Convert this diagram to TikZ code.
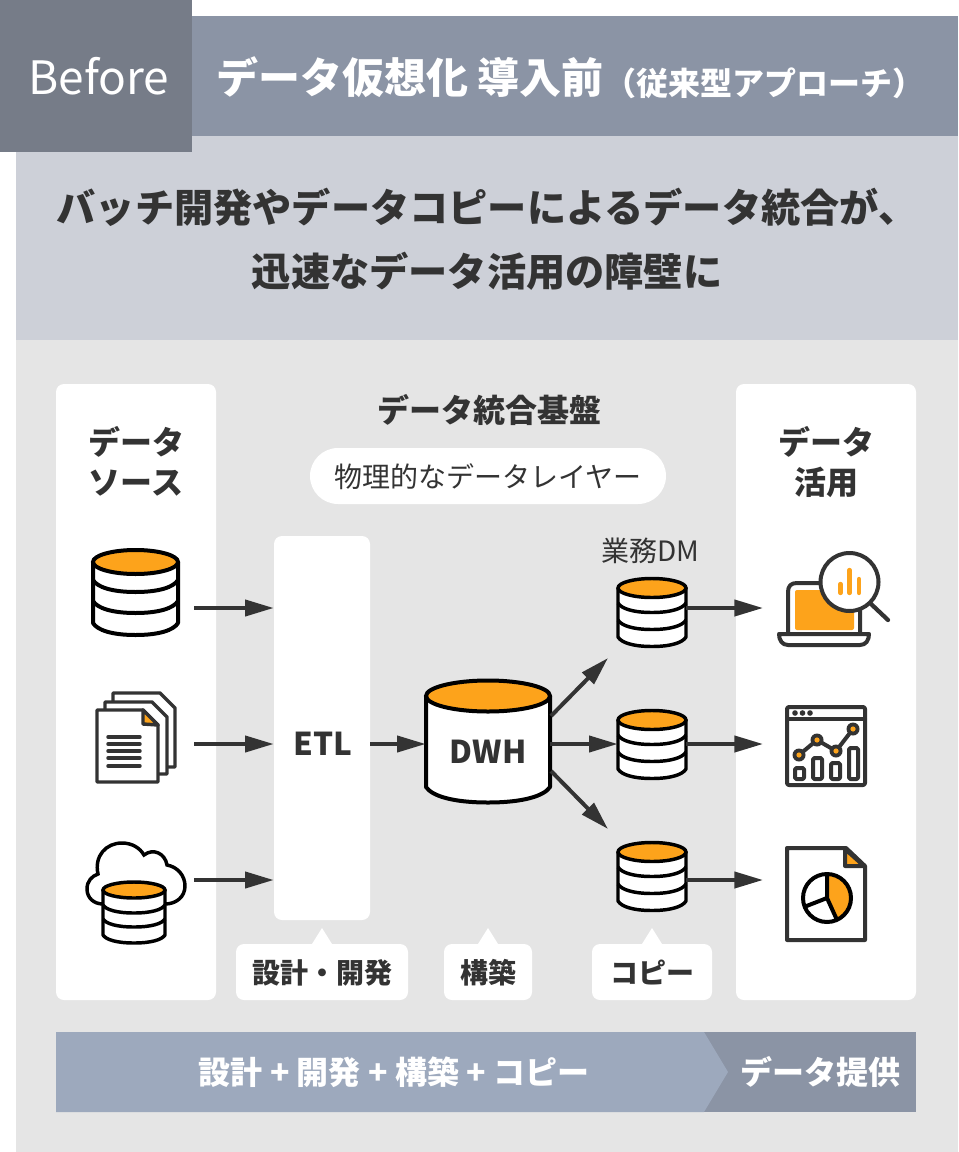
\documentclass[tikz,border=0pt]{standalone}
\usepackage{fontspec}
\setmainfont{Noto Sans CJK JP}
\usetikzlibrary{arrows.meta}
\definecolor{ink}{HTML}{333333}
\definecolor{orng}{HTML}{FDA31B}
\definecolor{hdr}{HTML}{8B94A5}
\definecolor{bfr}{HTML}{767C88}
\definecolor{sub}{HTML}{CDD0D8}
\definecolor{bgp}{HTML}{E5E5E5}
\definecolor{barl}{HTML}{9DA9BD}
\definecolor{barr}{HTML}{8B94A5}
\tikzset{
  B/.style={font=\bfseries\fontsize{#1}{#1}\selectfont,text height=.88*#1,text depth=.12*#1,inner sep=0pt,text=ink},
  R/.style={font=\fontsize{#1}{#1}\selectfont,text height=.88*#1,text depth=.12*#1,inner sep=0pt,text=ink},
  card/.style={fill=white,rounded corners=6pt,inner sep=0pt},
  flow/.style={draw=ink,line width=3pt,-{Triangle[length=21.5pt,width=12pt]},shorten >=0pt},
  anchorbox/.style={inner sep=0pt,minimum width=#1,minimum height=1pt},
  ic/.style={draw=ink,line width=2.6pt,line join=round,line cap=round},
}
% cx half-width cy ry band1 band2 band3 lw
\newcommand{\band}[4]{(#1-#2,#3) .. controls (#1-#2+.1*#2,#3+.6*#4) and (#1-.55*#2,#3+#4) .. (#1,#3+#4) .. controls (#1+.55*#2,#3+#4) and (#1+#2-.1*#2,#3+.6*#4) .. (#1+#2,#3)}
\newcommand{\dbicon}[8]{%
  \fill[white] (#1-#2,#3) -- \band{#1}{#2}{#7}{#4} -- (#1+#2,#3) -- cycle;
  \draw[black,line width=#8,fill=orng] (#1-#2,#3) .. controls (#1-#2,#3+.55*#4) and (#1-.55*#2,#3+#4) .. (#1,#3+#4) .. controls (#1+.55*#2,#3+#4) and (#1+#2,#3+.55*#4) .. (#1+#2,#3) .. controls (#1+#2,#3-.55*#4) and (#1+.55*#2,#3-#4) .. (#1,#3-#4) .. controls (#1-.55*#2,#3-#4) and (#1-#2,#3-.55*#4) .. (#1-#2,#3) -- cycle;
  \draw[black,line width=#8,line join=round] (#1-#2,#3) -- \band{#1}{#2}{#7}{#4} -- (#1+#2,#3);
  \draw[black,line width=#8] \band{#1}{#2}{#5}{#4};
  \draw[black,line width=#8] \band{#1}{#2}{#6}{#4};
}
\begin{document}
\begin{tikzpicture}[x=.75pt,y=-.75pt]
\useasboundingbox (0,0) rectangle (958,1152);
\fill[white] (0,0) rectangle (958,1152);
% bands
\fill[bgp] (16,340) rectangle (958,1152);
\fill[sub] (16,136) rectangle (958,340);
\fill[hdr] (192,16) rectangle (958,136);
\fill[bfr] (0,0) rectangle (192,152);
\node[R=34.5pt,text=white,anchor=center] (before) at (99,77) {Before};
\node[B=31.5pt,text=white,anchor=west] (title) at (216,78) {データ仮想化\hspace{7pt}導入前};
\node[B=24pt,text=white,anchor=center] (titlesub) at (764,83) {（従来型アプローチ）};
\node[B=29.4pt,anchor=center] (lead1) at (487,208) {バッチ開発やデータコピーによるデータ統合が、};
\node[B=29.4pt,anchor=center] (lead2) at (487,272) {迅速なデータ活用の障壁に};
% cards
\node[card,minimum width=120pt,minimum height=462pt] (srcpanel) at (136,692) {};
\node[card,minimum width=135pt,minimum height=462pt] (usepanel) at (826,692) {};
\node[card,minimum width=72pt,minimum height=288pt] (etl) at (322,728) {};
\node[B=23.6pt] (etltext) at (323,744) {ETL};
\node[B=24pt] (src1a) at (136,442) {データ};
\node[B=24pt] (src1b) at (136,482) {ソース};
\node[B=24pt] (use1a) at (826,442) {データ};
\node[B=24pt] (use1b) at (826,482) {活用};
\node[B=24pt] (platform) at (489,410) {データ統合基盤};
\node[fill=white,rounded corners=21pt,minimum width=267pt,minimum height=42pt,inner sep=0pt] (pill) at (488,476) {};
\node[R=21pt] (pilltext) at (488,477) {物理的なデータレイヤー};
\node[R=21pt] (dmlabel) at (650,551) {業務DM};
% label tags
\fill[white] (312,944) -- (322,928) -- (332,944) -- cycle;
\fill[white] (478,944) -- (488,928) -- (498,944) -- cycle;
\fill[white] (642,944) -- (652,928) -- (662,944) -- cycle;
\node[card,minimum width=129pt,minimum height=42pt] (tag1) at (322,972) {};
\node[card,minimum width=66pt,minimum height=42pt] (tag2) at (488,972) {};
\node[card,minimum width=90pt,minimum height=42pt] (tag3) at (652,972) {};
\node[B=21pt] (tag1t) at (322,973) {設計・開発};
\node[B=21pt] (tag2t) at (488,973) {構築};
\node[B=21pt] (tag3t) at (652,973) {コピー};
% bottom bar
\fill[barr] (700,1032) rectangle (916,1112);
\fill[barl] (56,1032) -- (704,1032) -- (728,1072) -- (704,1112) -- (56,1112) -- cycle;
\node[B=24pt,text=white] (bar1) at (394,1072) {設計 + 開発 + 構築 + コピー};
\node[B=24pt,text=white] (bar2) at (820,1072) {データ提供};
% anchors for connectors
\node[anchorbox=87pt] (s1) at (136,608) {};
\node[anchorbox=87pt] (s2) at (136,744) {};
\node[anchorbox=87pt] (s3) at (136,880) {};
\node[anchorbox=93pt] (dwh) at (488,744) {};
\node[anchorbox=51pt] (dm1) at (652,608) {};
\node[anchorbox=51pt] (dm2) at (652,744) {};
\node[anchorbox=51pt] (dm3) at (652,880) {};
\node[anchorbox=1pt] (u1) at (764,608) {};
\node[anchorbox=1pt] (u2) at (764,744) {};
\node[anchorbox=1pt] (u3) at (764,880) {};
\coordinate (dwhup) at (551,716);
\coordinate (dwhdn) at (551,771);
\coordinate (up) at (608,658);
\coordinate (dn) at (608,829);
% source 1 db
\dbicon{135.5}{42.5}{562}{12}{580}{601}{623}{3pt}
% docs
\draw[ic,fill=white] (113,767) -- (113,693) -- (160,693) -- (175,708) -- (175,767) -- cycle;
\draw[ic,fill=white] (105,774) -- (105,702) -- (152,702) -- (167,717) -- (167,774) -- cycle;
\draw[ic,fill=white] (97,782) -- (97,710) -- (143,710) -- (158,725) -- (158,782) -- cycle;
\draw[ic,fill=orng] (143,710) -- (143,724) -- (158,725) -- cycle;
\foreach \yy in {737,744,751,758,766} \draw[ic,line width=2.6pt] (108,\yy) -- (140,\yy);
% cloud + db
\draw[black,line width=2.6pt,fill=white] (103,904) .. controls (94,904) and (87,898) .. (87,889) .. controls (87,881) and (92,876) .. (98,874) .. controls (94,856) and (106,843) .. (122,843) .. controls (132,843) and (140,848) .. (144,855) .. controls (153,848) and (165,853) .. (167,865) .. controls (178,867) and (185,876) .. (185,886) .. controls (185,897) and (176,904) .. (165,904);
\dbicon{134}{31}{890}{8}{905}{919}{935}{2.6pt}
% laptop
\draw[ic,line width=3pt,fill=white] (788,635) -- (788,592) .. controls (788,586) and (791,583) .. (797,583) -- (851,583) .. controls (857,583) and (860,586) .. (860,592) -- (860,635);
\fill[orng,rounded corners=1.5pt] (795,590) rectangle (854,630);
\draw[ic,line width=3pt,fill=white] (779,634) -- (869,634) .. controls (869,640) and (866,645) .. (860,645) -- (788,645) .. controls (782,645) and (779,640) .. (779,634) -- cycle;
\draw[ic,line width=3.2pt] (870,603) -- (888,620);
\draw[ic,line width=3pt,fill=white] (849.5,582) circle (29);
\draw[orng,line width=3.2pt,line cap=round] (840.5,584) -- (840.5,593) (849.5,570) -- (849.5,593) (859,579) -- (859,593);
% chart icon
\draw[ic,line width=3pt,fill=white,rounded corners=1.5pt] (787,707) rectangle (865,785);
\draw[ic,line width=3pt] (787,719) -- (865,719);
\fill[ink] (795,713) circle (2.8) (802.5,713) circle (2.8) (810,713) circle (2.8);
\draw[ic,line width=3pt] (799,755) -- (817,740) -- (836,751) -- (853,729);
\foreach \px/\py in {799/755,817/740,836/751,853/729}{\fill[ink] (\px,\py) circle (6.5);\fill[orng] (\px,\py) circle (2.6);}
\draw[ic,line width=3pt,rounded corners=1pt] (795,768) rectangle (804,779);
\draw[ic,line width=3pt,rounded corners=1pt] (813,758) rectangle (822,779);
\draw[ic,line width=3pt,rounded corners=1pt] (831,763) rectangle (840,779);
\draw[ic,line width=3pt,rounded corners=1pt] (849,748) rectangle (858,779);
% pie doc
\draw[ic,line width=3pt,fill=white] (787,940) -- (787,848) -- (846,848) -- (865,866) -- (865,940) -- cycle;
\draw[ic,line width=3pt,fill=orng] (845,849) -- (845,866) -- (864,866) -- cycle;
\fill[white] (827,898) circle (24);
\fill[orng] (827,898) -- (827,874) arc[start angle=-90,end angle=65.6,radius=24] -- cycle;
\draw[black,line width=3pt] (827,898) circle (24);
\draw[black,line width=3pt] (827,874) -- (827,898) -- (837,920) (827,898) -- (804,907);
% DWH
\dbicon{488}{62}{696}{15.5}{2000}{2000}{787}{3pt}
\node[B=23.6pt] (dwhtext) at (488,752) {DWH};
% DM
\dbicon{652}{34}{588}{9.5}{603}{620}{637}{2.6pt}
\dbicon{652}{34}{720}{9.5}{735}{752}{769}{2.6pt}
\dbicon{652}{34}{852}{9.5}{867}{884}{901}{2.6pt}
% connectors
\draw[flow] (s1.east) -- (s1.east -| etl.west);
\draw[flow] (s2.east) -- (s2.east -| etl.west);
\draw[flow] (s3.east) -- (s3.east -| etl.west);
\draw[flow] (etl.east |- dwh.west) -- (dwh.west);
\draw[flow] (dwh.east) -- (dm2.west);
\draw[flow] (dwhup) -- (up);
\draw[flow] (dwhdn) -- (dn);
\draw[flow] (dm1.east) -- (u1.west);
\draw[flow] (dm2.east) -- (u2.west);
\draw[flow] (dm3.east) -- (u3.west);
\end{tikzpicture}
\end{document}
